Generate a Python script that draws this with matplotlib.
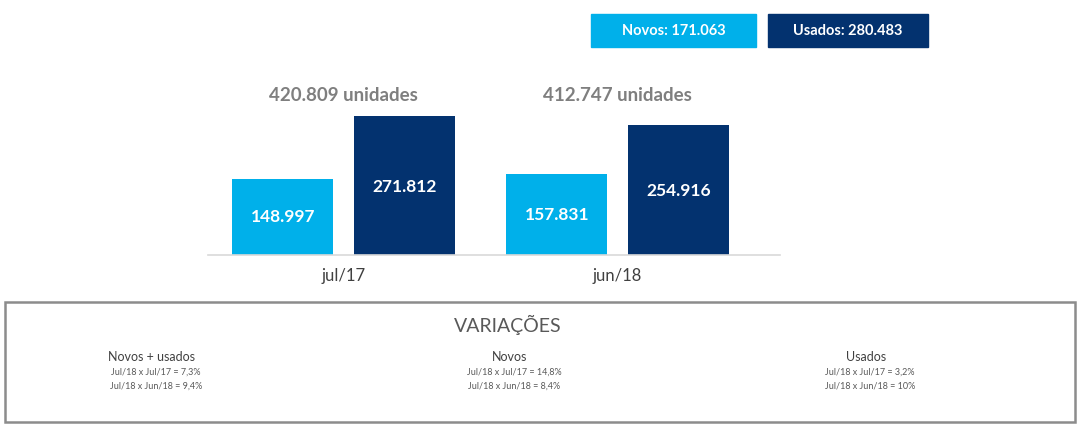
import matplotlib.pyplot as plt
from matplotlib.patches import Rectangle

# data (thousands shown with '.' separator)
periods = ['jul/17', 'jun/18']
novos = [148.997, 157.831]
usados = [271.812, 254.916]
totals = ['420.809', '412.747']
current_labels = ['Novos: 171.063', 'Usados: 280.483']

groups = ['Novos + usados', 'Novos', 'Usados']
var_jul = ['7,3%', '14,8%', '3,2%']
var_jun = ['9,4%', '8,4%', '10%']

light = '#00B0EA'
dark = '#03326F'
W, H = 1080, 429

plt.rcParams['font.family'] = ['Lato', 'DejaVu Sans']
fig = plt.figure(figsize=(W / 100, H / 100), dpi=100)

# bar chart area, pixel placement converted to figure fractions
ax = fig.add_axes([208 / W, (H - 255) / H, 572 / W, 195 / H])
ymax = 195 / 0.511
x = [0, 1]
off, bw = 0.222, 0.37
ax.bar([i - off for i in x], novos, bw, color=light)
ax.bar([i + off for i in x], usados, bw, color=dark)
ax.set_xlim(-0.495, 1.593)
ax.set_ylim(0, ymax)
for s in ['top', 'right', 'left']:
    ax.spines[s].set_visible(False)
ax.spines['bottom'].set_color('#d9d9d9')
ax.spines['bottom'].set_linewidth(1.2)
ax.set_yticks([])
ax.set_xticks(x)
ax.set_xticklabels(periods, fontsize=12, color='#404040')
ax.tick_params(axis='x', length=0, pad=9)

for i in x:
    ax.text(i - off, novos[i] * 0.5, f'{novos[i]:.3f}', ha='center', va='center',
            color='white', fontsize=12.5, fontweight='bold')
    ax.text(i + off, usados[i] * 0.49, f'{usados[i]:.3f}', ha='center', va='center',
            color='white', fontsize=12.5, fontweight='bold')
    ax.text(i, 313, totals[i] + ' unidades', ha='center',
            va='center', color='#7f7f7f', fontsize=13.5, fontweight='bold')

# top legend boxes
for (x0, x1), lab, col in zip([(591, 756), (768, 928)], current_labels, [light, dark]):
    fig.patches.append(Rectangle((x0 / W, (H - 47) / H), (x1 - x0) / W, 33 / H,
                                 transform=fig.transFigure, color=col))
    fig.text((x0 + x1) / 2 / W, (H - 31) / H, lab, ha='center', va='center',
             color='white', fontsize=10.5, fontweight='bold')

# variations box
fig.patches.append(Rectangle((5 / W, (H - 422) / H), 1070 / W, 120 / H,
                             transform=fig.transFigure, fill=False,
                             edgecolor='#8c8c8c', linewidth=1.8))
fig.text(508 / W, (H - 325) / H, 'VARIAÇÕES', ha='center', va='center',
         color='#595959', fontsize=14)
for cx, g, a, b in zip([152, 510, 866], groups, var_jul, var_jun):
    fig.text(cx / W, (H - 357) / H, g, ha='center', va='center',
             color='#404040', fontsize=9)
    fig.text((cx + 4) / W, (H - 372) / H, 'Jul/18 x Jul/17 = ' + a, ha='center',
             va='center', color='#595959', fontsize=6.5)
    fig.text((cx + 4) / W, (H - 386) / H, 'Jul/18 x Jun/18 = ' + b, ha='center',
             va='center', color='#595959', fontsize=6.5)

fig.savefig('out.png', dpi=100)
